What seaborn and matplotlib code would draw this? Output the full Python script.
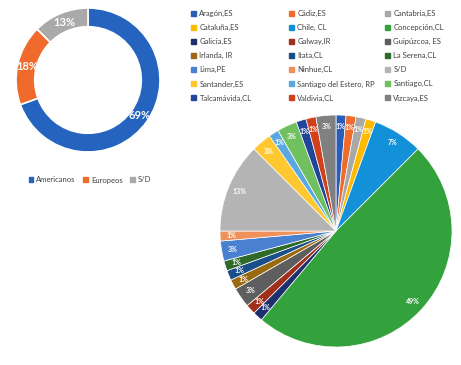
import matplotlib
matplotlib.use("Agg")
import matplotlib.pyplot as plt
import matplotlib.patches as mpatches
import seaborn as sns

sns.set_theme(style="white")
plt.rcParams['font.family'] = ['Lato', 'DejaVu Sans']

# datos: origen (donut)
origen_labels = ["Americanos", "Europeos", "S/D"]
origen_counts = [50, 13, 9]
origen_colors = ["#2463BE", "#F06B2B", "#A9A9A9"]

# datos: procedencia (pie)
lugar_labels = ["Aragón,ES", "Cádiz,ES", "Cantabria,ES", "Cataluña,ES", "Chile, CL",
                "Concepción,CL", "Galicia,ES", "Galway,IR", "Guipúzcoa, ES", "Irlanda, IR",
                "Itata,CL", "La Serena,CL", "Lima,PE", "Ninhue,CL", "S/D",
                "Santander,ES", "Santiago del Estero, RP", "Santiago,CL", "Talcamávida,CL",
                "Valdivia,CL", "Vizcaya,ES"]
lugar_counts = [1, 1, 1, 1, 5, 35, 1, 1, 2, 1, 1, 1, 2, 1, 9, 2, 1, 2, 1, 1, 2]
lugar_colors = ["#2A5DB8", "#F06A2A", "#A8A8A8", "#FFBA00", "#1290D8",
                "#34A23C", "#1E2F6E", "#A0301A", "#5E5E5E", "#9A6A10",
                "#1A4E8A", "#2E6A2A", "#4A80D0", "#F0905A", "#B4B4B4",
                "#FFC830", "#5AA8E0", "#70C060", "#20459A", "#D0401A", "#808080"]

W, H = 461, 365
fig = plt.figure(figsize=(W / 100, H / 100), dpi=100)


def pct(p):
    return f"{int(p + 0.5)}%"


# donut
ax1 = fig.add_axes([16 / W, 1 - 152 / H, 144 / W, 144 / H])
ax1.pie(origen_counts, colors=origen_colors, startangle=90, counterclock=False,
        autopct=pct, pctdistance=0.87, radius=1,
        wedgeprops=dict(width=0.26, edgecolor="white", linewidth=1.2),
        textprops=dict(color="white", fontsize=8, fontweight="bold"))
ax1.set_xlim(-1, 1); ax1.set_ylim(-1, 1)
ax1.set_aspect("equal")
ax1.axis("off")

h1 = [mpatches.Patch(color=c, label=l) for c, l in zip(origen_colors, origen_labels)]
fig.legend(handles=h1, loc="center", bbox_to_anchor=(90 / W, 1 - 180 / H), ncol=3,
           frameon=False, fontsize=5.5, handlelength=0.6, handleheight=0.6,
           handletextpad=0.4, columnspacing=1.0, labelcolor="#404040")

# pie grande
ax2 = fig.add_axes([220 / W, 1 - 347 / H, 232 / W, 232 / H])
ax2.pie(lugar_counts, colors=lugar_colors, startangle=90, counterclock=False,
        autopct=pct, pctdistance=0.9, radius=1,
        wedgeprops=dict(edgecolor="white", linewidth=0.5),
        textprops=dict(color="white", fontsize=5, fontweight="bold"))
ax2.set_xlim(-1, 1); ax2.set_ylim(-1, 1)
ax2.set_aspect("equal")
ax2.axis("off")

# leyenda en 3 columnas (orden por filas)
col_x = [191, 289, 385]
for c in range(3):
    idx = list(range(c, len(lugar_labels), 3))
    hs = [mpatches.Patch(color=lugar_colors[i], label=lugar_labels[i]) for i in idx]
    fig.legend(handles=hs, loc="upper left", bbox_to_anchor=(col_x[c] / W, 1 - 10 / H),
               frameon=False, fontsize=5.5, handlelength=0.6, handleheight=0.6,
               handletextpad=0.5, labelspacing=0.92, borderaxespad=0, borderpad=0,
               labelcolor="#404040")

fig.savefig("out.png", dpi=100)
